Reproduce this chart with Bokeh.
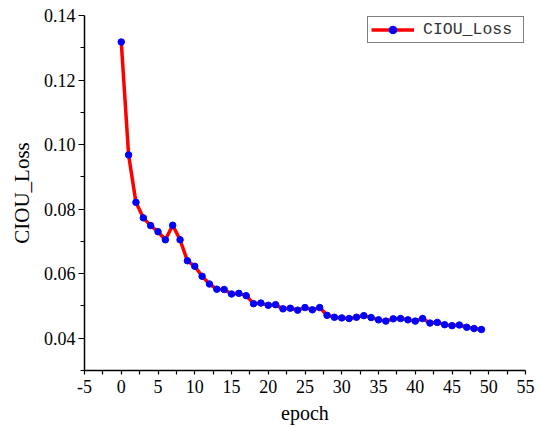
from bokeh.plotting import figure
from bokeh.models import FixedTicker, NumeralTickFormatter, Range1d
from bokeh.embed import file_html
from bokeh.resources import INLINE

epochs = list(range(50))
ciou_loss = [0.1318, 0.0968, 0.0821, 0.0773, 0.0749, 0.0730, 0.0705, 0.0750, 0.0705, 0.0640,
             0.0623, 0.0592, 0.0568, 0.0552, 0.0551, 0.0537, 0.0539, 0.0532, 0.0507, 0.0509,
             0.0502, 0.0504, 0.0491, 0.0493, 0.0487, 0.0495, 0.0488, 0.0495, 0.0471, 0.0465,
             0.0463, 0.0461, 0.0465, 0.0470, 0.0464, 0.0457, 0.0453, 0.0460, 0.0461, 0.0457,
             0.0453, 0.0461, 0.0447, 0.0449, 0.0442, 0.0439, 0.0441, 0.0434, 0.0430, 0.0427]
x_ticks = [-5, 0, 5, 10, 15, 20, 25, 30, 35, 40, 45, 50, 55]
x_minor = [-2.5, 2.5, 7.5, 12.5, 17.5, 22.5, 27.5, 32.5, 37.5, 42.5, 47.5, 52.5]
y_ticks = [0.04, 0.06, 0.08, 0.10, 0.12, 0.14]
y_minor = [0.03, 0.05, 0.07, 0.09, 0.11, 0.13]

p = figure(width=541, height=427, output_backend="svg", toolbar_location=None,
           x_range=Range1d(-5, 55), y_range=Range1d(0.03, 0.14),
           min_border_left=84, min_border_right=16, min_border_top=15, min_border_bottom=57)
p.outline_line_color = None
p.grid.visible = False
p.background_fill_color = "white"
p.border_fill_color = "white"

p.line(epochs, ciou_loss, line_color="red", line_width=3.5, legend_label="CIOU_Loss")
p.scatter(epochs, ciou_loss, size=6.5, fill_color="blue", line_color="blue", legend_label="CIOU_Loss")

serif = "Liberation Serif"
p.xaxis.ticker = FixedTicker(ticks=x_ticks, minor_ticks=x_minor)
p.yaxis.ticker = FixedTicker(ticks=y_ticks, minor_ticks=y_minor)
p.yaxis.formatter = NumeralTickFormatter(format="0.00")
p.xaxis.major_label_overrides = {-5: "-5"}
for ax in (p.xaxis[0], p.yaxis[0]):
    ax.axis_line_color = "black"
    ax.axis_line_width = 1.5
    ax.major_tick_line_color = "black"
    ax.minor_tick_line_color = "black"
    ax.major_tick_line_width = 1.2
    ax.minor_tick_line_width = 1.2
    ax.major_tick_in = 0
    ax.minor_tick_in = 0
    ax.major_label_text_font = serif
    ax.major_label_text_font_size = "18px"
    ax.major_label_text_color = "black"
    ax.axis_label_text_font = serif
    ax.axis_label_text_font_size = "20px"
    ax.axis_label_text_font_style = "normal"
    ax.axis_label_text_color = "black"
p.yaxis.axis_label_text_font_size = "21px"
p.xaxis.major_tick_out = 4
p.xaxis.minor_tick_out = 4
p.yaxis.major_tick_out = 6
p.yaxis.minor_tick_out = 4
p.xaxis.major_label_standoff = 5
p.yaxis.major_label_standoff = 3
p.xaxis.axis_label = "epoch"
p.yaxis.axis_label = "CIOU_Loss"
p.xaxis.axis_label_standoff = 6
p.yaxis.axis_label_standoff = 7

lg = p.legend[0]
lg.location = "top_right"
lg.margin = 1
lg.border_line_color = "black"
lg.border_line_width = 1.2
lg.padding = 3
lg.spacing = 0
lg.glyph_width = 43
lg.glyph_height = 19
lg.label_width = 97
lg.label_text_font = "Liberation Mono"
lg.label_text_font_size = "16.5px"
lg.label_text_color = "#333333"
lg.label_standoff = 9
lg.background_fill_alpha = 1

open("out.html", "w").write(file_html(p, INLINE))
